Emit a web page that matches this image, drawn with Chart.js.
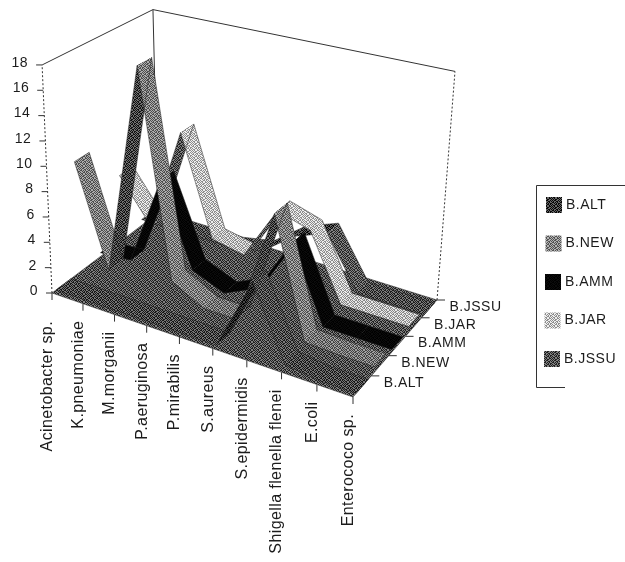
<!DOCTYPE html>
<html>
<head>
<meta charset="utf-8">
<style>
  html, body { margin: 0; padding: 0; background: #fff; }
  canvas { display: block; }
</style>
<script src="https://cdn.jsdelivr.net/npm/chart.js@4/dist/chart.umd.min.js"></script>
</head>
<body>
<canvas id="chart" width="625" height="562"></canvas>
<script>
const categories = ['Acinetobacter sp.', 'K.pneumoniae', 'M.morganii', 'P.aeruginosa', 'P.mirabilis',
  'S.aureus', 'S.epidermidis', 'Shigella flenella flenei', 'E.coli', 'Enterococo sp.'];
const seriesNames = ['B.ALT', 'B.NEW', 'B.AMM', 'B.JAR', 'B.JSSU'];
const yTicks = [0, 2, 4, 6, 8, 10, 12, 14, 16, 18];

const altValues = [0, 0, 0, 0, 0, 0, 5.5, 0.3, 0, 0];
const newValues = [9, 1, 18, 1.8, 0.5, 0.5, 9.3, 0.5, 0.4, 0.4];
const ammValues = [0.3, 0.5, 7.7, 1.3, 0.3, 1.5, 5.8, 0.2, 0.2, 0.2];
const jarValues = [5.5, 2, 10.5, 2.5, 2, 6.3, 5.5, 0.5, 0.5, 0.5];
const jssuValues = [0.5, 0.5, 0.5, 0.5, 1, 3, 4, 0, 0, 0];
const allValues = [altValues, newValues, ammValues, jarValues, jssuValues];

// grey levels for rising, flat and falling stretches of each ribbon
const shades = [[35, 70, 75], [65, 115, 125], [6, 6, 6], [80, 185, 190], [50, 75, 85]];
const legendGrey = [55, 130, 6, 190, 80];

// floor corners on the page and the lean of one value unit at each corner
const FL = [52, 293], FR = [353, 397], BR = [437, 300], BL = [158, 213];
const upFL = [-0.55, -12.67], upFR = [0.9, -14.1], upBR = [1, -12.7], upBL = [-0.28, -11.3];

function makeHomography() {
  const dx1 = FR[0] - BR[0], dx2 = BL[0] - BR[0], sx = FL[0] - FR[0] + BR[0] - BL[0];
  const dy1 = FR[1] - BR[1], dy2 = BL[1] - BR[1], sy = FL[1] - FR[1] + BR[1] - BL[1];
  const det = dx1 * dy2 - dx2 * dy1;
  const g = (sx * dy2 - dx2 * sy) / det, h = (dx1 * sy - sx * dy1) / det;
  return { a: FR[0] - FL[0] + g * FR[0], b: BL[0] - FL[0] + h * BL[0], c: FL[0],
           d: FR[1] - FL[1] + g * FR[1], e: BL[1] - FL[1] + h * BL[1], f: FL[1], g, h };
}
const H = makeHomography();

// category position (0-9), depth in bands (0-5), value -> page x,y
function project(cat, depth, value) {
  const u = cat / (categories.length - 1), w = depth / seriesNames.length;
  const q = H.g * u + H.h * w + 1;
  const lerp = k => (upFL[k] * (1 - u) + upFR[k] * u) * (1 - w) + (upBL[k] * (1 - u) + upBR[k] * u) * w;
  return {
    x: (H.a * u + H.b * w + H.c) / q + lerp(0) * value,
    y: (H.d * u + H.e * w + H.f) / q + lerp(1) * value
  };
}

// photocopy stipple that averages out to the given grey
const STIPPLE = ['10110010', '01001101', '11010100', '00101011', '10011010', '01100101', '10100110', '01011001'];

function halftone(grey) {
  const amount = Math.min(48, grey, 255 - grey);
  const c = document.createElement('canvas');
  c.width = c.height = 8;
  const g = c.getContext('2d');
  STIPPLE.forEach((row, y) => {
    [...row].forEach((bit, x) => {
      const level = bit === '1' ? grey - amount : grey + amount;
      g.fillStyle = 'rgb(' + level + ',' + level + ',' + level + ')';
      g.fillRect(x, y, 1, 1);
    });
  });
  return document.getElementById('chart').getContext('2d').createPattern(c, 'repeat');
}

const RIBBON = 0.66; // share of a band the ribbon covers

function ribbonData(values, band) {
  const lo = band + (1 - RIBBON) / 2, hi = band + 1 - (1 - RIBBON) / 2;
  const front = values.map((v, i) => project(i, lo, v));
  const back = values.map((v, i) => project(i, hi, v)).reverse();
  return front.concat(back, [front[0]]);
}

const lastCat = categories.length - 1;
const maxTick = yTicks[yTicks.length - 1];

const ribbons = allValues.map((values, band) => ({
  label: seriesNames[band],
  data: ribbonData(values, band),
  ribbon: band,
  showLine: true,
  pointRadius: 0,
  borderColor: '#222',
  borderWidth: 0.5
}));

const frameLine = (label, pts, dash) => ({
  label, data: pts, showLine: true, pointRadius: 0,
  borderColor: '#333', borderWidth: 1, borderDash: dash || []
});

const floorSet = {
  label: 'floor',
  data: [project(0, 0, 0), project(lastCat, 0, 0), project(lastCat, 5, 0), project(0, 5, 0), project(0, 0, 0)],
  floor: true, showLine: true, pointRadius: 0, borderColor: '#222', borderWidth: 0.5
};

const frameSets = [
  frameLine('left', [project(0, 0, 0), project(0, 0, maxTick)], [2, 2]),
  frameLine('back left', [project(0, 5, 0), project(0, 5, maxTick)]),
  frameLine('back right', [project(lastCat, 5, 0), project(lastCat, 5, maxTick)], [2, 2]),
  frameLine('top left', [project(0, 0, maxTick), project(0, 5, maxTick)]),
  frameLine('top back', [project(0, 5, maxTick), project(lastCat, 5, maxTick)])
];

const ribbonPlugin = {
  id: 'ribbonFill',
  beforeDatasetDraw(chart, args) {
    const ds = chart.data.datasets[args.index], ctx = chart.ctx, pts = args.meta.data;
    if (ds.floor) {
      ctx.save();
      ctx.fillStyle = halftone(80);
      ctx.beginPath();
      pts.forEach((p, i) => i ? ctx.lineTo(p.x, p.y) : ctx.moveTo(p.x, p.y));
      ctx.fill();
      ctx.restore();
    }
    if (ds.ribbon === undefined) return;
    const values = allValues[ds.ribbon], n = values.length;
    ctx.save();
    for (let i = 0; i < n - 1; i++) {
      const diff = values[i + 1] - values[i];
      const kind = diff > 0.6 ? 0 : diff < -0.6 ? 2 : 1;
      const a = pts[i], b = pts[i + 1], c = pts[2 * n - 2 - i], d = pts[2 * n - 1 - i];
      ctx.fillStyle = halftone(shades[ds.ribbon][kind]);
      ctx.beginPath();
      ctx.moveTo(a.x, a.y); ctx.lineTo(b.x, b.y); ctx.lineTo(c.x, c.y); ctx.lineTo(d.x, d.y);
      ctx.closePath();
      ctx.fill();
    }
    ctx.restore();
  },
  afterDraw(chart) {
    const ctx = chart.ctx, sx = chart.scales.x, sy = chart.scales.y;
    const px = p => ({ x: sx.getPixelForValue(p.x), y: sy.getPixelForValue(p.y) });
    const tick = (a, dx) => {
      ctx.beginPath(); ctx.moveTo(a.x, a.y); ctx.lineTo(a.x + dx[0], a.y + dx[1]); ctx.stroke();
    };
    ctx.save();
    ctx.strokeStyle = '#333';
    ctx.fillStyle = '#1c1c1c';
    ctx.lineWidth = 1;
    ctx.font = '14px "Liberation Sans", Arial, sans-serif';
    ctx.letterSpacing = '0.5px';

    yTicks.forEach(v => {
      const a = px(project(0, 0, v));
      tick(a, [-6, 0]);
      ctx.textAlign = 'right';
      ctx.textBaseline = 'middle';
      ctx.fillText(String(v), a.x - 14, a.y - 2);
    });

    seriesNames.forEach((name, band) => {
      const a = px(project(lastCat, band + 1, 0));
      tick(a, [8, 0]);
      ctx.textAlign = 'left';
      ctx.textBaseline = 'middle';
      ctx.fillText(name, a.x + 12.5, a.y + 7);
    });

    // legend box, its right side runs off the scan
    ctx.beginPath();
    ctx.moveTo(625, 185.5); ctx.lineTo(536.5, 185.5); ctx.lineTo(536.5, 387.5); ctx.lineTo(565, 387.5);
    ctx.stroke();
    seriesNames.forEach((name, band) => {
      const y = 205 + band * 38.5;
      ctx.fillStyle = halftone(legendGrey[band]);
      ctx.fillRect(546 - band * 0.5, y - 8, 16, 16);
      ctx.fillStyle = '#1c1c1c';
      ctx.textAlign = 'left';
      ctx.textBaseline = 'middle';
      ctx.fillText(name, 566 - band * 0.5, y);
    });

    ctx.font = '16px "Liberation Sans", Arial, sans-serif';
    ctx.letterSpacing = '0.4px';
    categories.forEach((name, i) => {
      const a = px(project(i, 0, 0));
      tick(a, [0, 7]);
      ctx.save();
      ctx.translate(a.x - 4.5, a.y + (i === 0 ? 28 : 17));
      ctx.rotate(-Math.PI / 2);
      ctx.textAlign = 'right';
      ctx.textBaseline = 'middle';
      ctx.fillText(name, 0, 0);
      ctx.restore();
    });
    ctx.restore();
  }
};

new Chart(document.getElementById('chart'), {
  type: 'scatter',
  data: { datasets: [...ribbons, floorSet, ...frameSets] },
  options: {
    responsive: false,
    animation: false,
    layout: { padding: 0 },
    plugins: { legend: { display: false }, tooltip: { enabled: false }, title: { display: false } },
    scales: {
      x: { type: 'linear', min: 0, max: 625, display: false },
      y: { type: 'linear', min: 0, max: 562, reverse: true, display: false }
    }
  },
  plugins: [ribbonPlugin]
});
</script>
</body>
</html>
